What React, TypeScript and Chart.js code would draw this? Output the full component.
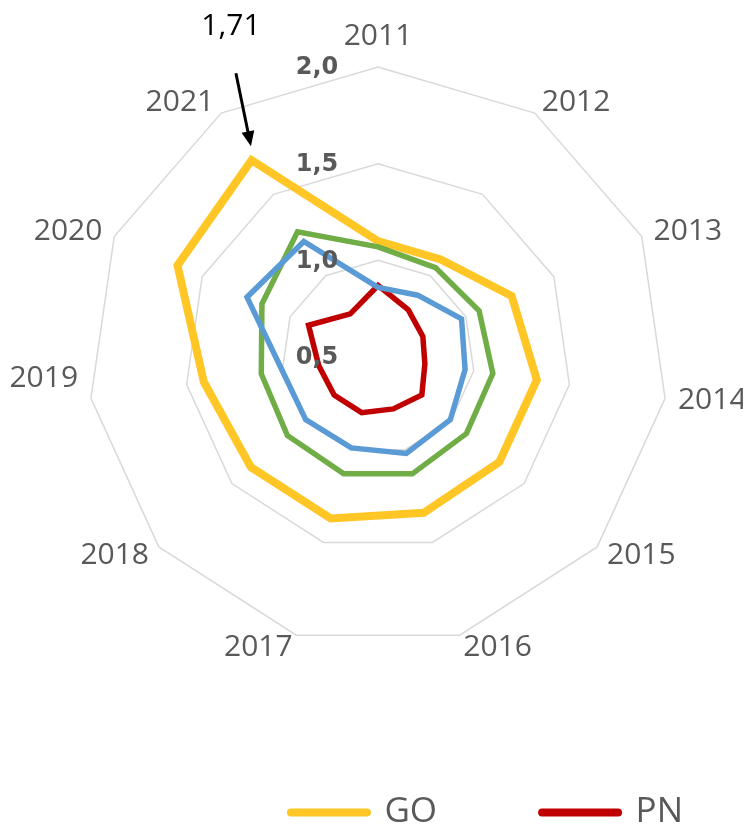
import React, { useEffect, useRef } from "react";
import { Chart, registerables } from "chart.js";

Chart.register(...registerables);

const categories = ["2011", "2012", "2013", "2014", "2015", "2016", "2017", "2018", "2019", "2020", "2021"];
const goValues = [1.1, 1.1, 1.26, 1.33, 1.33, 1.34, 1.37, 1.37, 1.41, 1.64, 1.71];
const pnValues = [0.87, 0.79, 0.755, 0.745, 0.8, 0.78, 0.8, 0.8, 0.81, 0.895, 0.765];
const series3Values = [1.07, 1.05, 1.075, 1.1, 1.105, 1.13, 1.13, 1.12, 1.11, 1.16, 1.27];
const series4Values = [0.86, 0.88, 0.975, 0.955, 0.995, 1.02, 0.99, 0.995, 1.0, 1.245, 1.21];
const tickValues = [0.5, 1.0, 1.5, 2.0];
const annotatedIndex = 10;

// small vertical nudges for individual category labels (layout only)
const labelNudge: Record<number, number> = { 8: -22 };

const fmt = (v: number, d: number) => v.toFixed(d).replace(".", ",");

// Centre category labels vertically on their anchor point (except the top one)
const pointLabelPlacement = {
  id: "pointLabelPlacement",
  beforeDraw(chart: any) {
    const scale = chart.scales.r;
    const items = scale && scale._pointLabelItems;
    if (!items) return;
    const pad = scale.options.pointLabels.padding;
    items.forEach((item: any, i: number) => {
      if (i === 0) return;
      const pos = scale.getPointPosition(i, scale.drawingArea + pad);
      const h = item.bottom - item.top;
      const y = pos.y - h / 2 + (labelNudge[i] || 0);
      item.y = y;
      item.top = y;
      item.bottom = y + h;
    });
  },
};

const tickLabelPlugin = {
  id: "tickLabelsLeft",
  afterDatasetsDraw(chart: any) {
    const scale = chart.scales.r;
    const ctx = chart.ctx;
    ctx.save();
    ctx.font = "bold 24px 'DejaVu Sans'";
    ctx.fillStyle = "#595959";
    ctx.textAlign = "center";
    ctx.textBaseline = "middle";
    scale.ticks.forEach((t: any) => {
      const d = scale.getDistanceFromCenterForValue(t.value);
      ctx.fillText(fmt(t.value, 1), scale.xCenter - 61, scale.yCenter - d + 1);
    });
    ctx.restore();
  },
};

const annotationPlugin = {
  id: "peakAnnotation",
  afterDatasetsDraw(chart: any) {
    const meta = chart.getDatasetMeta(0);
    const el = meta.data[annotatedIndex];
    if (!el) return;
    const ctx = chart.ctx;
    const x = el.x;
    const y = el.y;
    const sx = x - 15.6;
    const sy = y - 87;
    const tx = x - 0.6;
    const ty = y - 14;
    const dx = tx - sx;
    const dy = ty - sy;
    const len = Math.sqrt(dx * dx + dy * dy);
    const ux = dx / len;
    const uy = dy / len;
    const headLen = 15;
    const headHalf = 6.5;
    ctx.save();
    ctx.strokeStyle = "#000";
    ctx.fillStyle = "#000";
    ctx.lineWidth = 3;
    ctx.beginPath();
    ctx.moveTo(sx, sy);
    ctx.lineTo(tx - ux * (headLen - 2), ty - uy * (headLen - 2));
    ctx.stroke();
    const bx = tx - ux * headLen;
    const by = ty - uy * headLen;
    ctx.beginPath();
    ctx.moveTo(tx, ty);
    ctx.lineTo(bx - uy * headHalf, by + ux * headHalf);
    ctx.lineTo(bx + uy * headHalf, by - ux * headHalf);
    ctx.closePath();
    ctx.fill();
    ctx.font = "30px 'Open Sans'";
    ctx.textAlign = "center";
    ctx.textBaseline = "middle";
    ctx.fillText(fmt(goValues[annotatedIndex], 2), x - 20.6, y - 134);
    ctx.restore();
  },
};

export default function App() {
  const ref = useRef<HTMLCanvasElement>(null);

  useEffect(() => {
    if (!ref.current) return;
    const chart = new Chart(ref.current, {
      type: "radar",
      data: {
        labels: categories,
        datasets: [
          {
            label: "GO",
            data: goValues,
            borderColor: "#FFC625",
            backgroundColor: "#FFC625",
            borderWidth: 8,
            pointRadius: 0,
            fill: false,
            order: 3,
          },
          {
            label: "PN",
            data: pnValues,
            borderColor: "#C00000",
            backgroundColor: "#C00000",
            borderWidth: 5.5,
            pointRadius: 0,
            fill: false,
            order: 1,
          },
          {
            label: "Series 3",
            data: series3Values,
            borderColor: "#70AD47",
            backgroundColor: "#70AD47",
            borderWidth: 5.5,
            pointRadius: 0,
            fill: false,
            order: 2,
          },
          {
            label: "Series 4",
            data: series4Values,
            borderColor: "#5B9BD5",
            backgroundColor: "#5B9BD5",
            borderWidth: 5.5,
            pointRadius: 0,
            fill: false,
            order: 0,
          },
        ],
      },
      options: {
        responsive: false,
        animation: false,
        layout: { padding: { top: 4, bottom: 0, left: 0, right: 0 } },
        plugins: {
          tooltip: { enabled: false },
          legend: {
            position: "bottom",
            align: "end",
            labels: {
              usePointStyle: true,
              pointStyle: "line",
              pointStyleWidth: 76,
              padding: 105,
              color: "#595959",
              font: { family: "'Open Sans'", size: 35 },
              generateLabels: (c: any) =>
                (Chart.defaults.plugins.legend.labels.generateLabels as any)(c).map((it: any) => ({
                  ...it,
                  lineWidth: 8,
                  lineCap: "round",
                })),
              filter: (item: any) => item.datasetIndex === 0 || item.datasetIndex === 1,
              sort: (a: any, b: any) => a.datasetIndex - b.datasetIndex,
            },
          },
        },
        scales: {
          r: {
            min: tickValues[0],
            max: tickValues[tickValues.length - 1],
            ticks: { stepSize: tickValues[1] - tickValues[0], display: false },
            grid: { color: "#d9d9d9", lineWidth: 1.5 },
            angleLines: { display: false },
            pointLabels: {
              color: "#595959",
              font: { family: "'Open Sans'", size: 30 },
              padding: 13,
            },
          },
        },
      },
      plugins: [pointLabelPlacement, tickLabelPlugin, annotationPlugin],
    } as any);
    return () => chart.destroy();
  }, []);

  return (
    <div style={{ width: 735, height: 819, overflow: "hidden", position: "relative" }}>
      <canvas
        ref={ref}
        width={820}
        height={832}
        style={{ display: "block", marginLeft: -40, width: 820, height: 832 }}
      />
    </div>
  );
}
